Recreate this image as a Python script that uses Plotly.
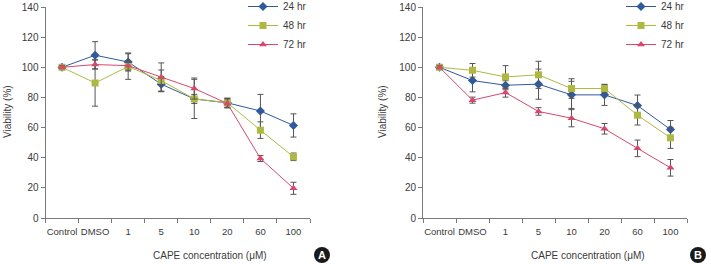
import plotly.graph_objects as go

categories = ["Control", "DMSO", "1", "5", "10", "20", "60", "100"]
series_names = ["24 hr", "48 hr", "72 hr"]

# Panel A
a_24 = [100, 108, 103.5, 88.8, 79, 76.4, 71, 61.4]
a_24_err = [1, 9, 6, 5, 3, 3, 11, 7.7]
a_48 = [100, 89.6, 100.5, 91.2, 79, 76.5, 58.3, 40.6]
a_48_err = [1, 15.4, 8.5, 7, 13, 3, 5.5, 2.5]
a_72 = [100, 101.8, 101.1, 93.4, 85.9, 76, 39.5, 19.7]
a_72_err = [1, 3, 3, 9.5, 7, 3, 2, 4]

# Panel B
b_24 = [100, 91.2, 88.1, 88.8, 81.7, 81.7, 74.6, 58.7]
b_24_err = [1, 7.5, 3, 10, 9, 7, 7, 6]
b_48 = [100, 98, 93.6, 95, 85.9, 85.9, 68.2, 53.2]
b_48_err = [1, 4.5, 7.5, 9, 6.5, 2.5, 6.5, 7]
b_72 = [100, 78.2, 83.2, 70.7, 66.2, 59.2, 46.2, 33.3]
b_72_err = [1, 2, 3, 2.5, 5.7, 3.5, 5.5, 5.5]

colors = ["#2f5a9b", "#afb941", "#d6486c"]
symbols = ["diamond", "square", "triangle-up"]
sizes = [7, 7, 7]

FONT = "Liberation Sans, Arial, sans-serif"
FS = 10
TXT = "#3a3a3a"
AX = "#7a7a7a"

fig = go.Figure()

panels = [
    ("x", "y", "legend", [a_24, a_48, a_72], [a_24_err, a_48_err, a_72_err]),
    ("x2", "y2", "legend2", [b_24, b_48, b_72], [b_24_err, b_48_err, b_72_err]),
]
for xa, ya, lg, vals, errs in panels:
    for i in range(3):
        fig.add_trace(go.Scatter(
            x=categories, y=vals[i], xaxis=xa, yaxis=ya, legend=lg,
            name=series_names[i], mode="lines+markers",
            line=dict(color=colors[i], width=1),
            marker=dict(color=colors[i], symbol=symbols[i], size=sizes[i]),
            error_y=dict(type="data", array=errs[i], visible=True,
                         color="#555555", thickness=1, width=3),
        ))

ydom = [(264 - 218) / 264, (264 - 7) / 264]
axis_common = dict(showline=True, linecolor=AX, linewidth=1, ticks="outside",
                   tickcolor=AX, ticklen=4, showgrid=False, zeroline=False,
                   automargin=False)
yticks = [0, 20, 40, 60, 80, 100, 120, 140]
xfont = dict(family=FONT, size=9.5, color=TXT)
yfont = dict(family=FONT, size=FS, color=TXT)
LEG_Y = 1 + 8 / 264
fig.update_layout(
    width=711, height=264, margin=dict(l=0, r=0, t=0, b=0, autoexpand=False),
    paper_bgcolor="white", plot_bgcolor="white", showlegend=True,
    font=dict(family=FONT, size=FS, color=TXT),
    xaxis=dict(domain=[45.5 / 711, 310 / 711], anchor="y", type="category",
               range=[-0.5, 7.5], tickson="boundaries", tickangle=0, tickfont=xfont,
               ticklabelstandoff=5, **axis_common),
    yaxis=dict(domain=ydom, anchor="x", range=[0, 140], tickvals=yticks, tickfont=yfont,
               **axis_common),
    xaxis2=dict(domain=[423 / 711, 687 / 711], anchor="y2", type="category",
                range=[-0.5, 7.5], tickson="boundaries", tickangle=0, tickfont=xfont,
                ticklabelstandoff=5, **axis_common),
    yaxis2=dict(domain=ydom, anchor="x2", range=[0, 140], tickvals=yticks, tickfont=yfont,
                **axis_common),
    legend=dict(x=243 / 711, y=LEG_Y, xanchor="left", yanchor="top",
                bgcolor="rgba(0,0,0,0)", font=dict(family=FONT, size=FS, color=TXT),
                tracegroupgap=0, itemwidth=30),
    legend2=dict(x=621 / 711, y=LEG_Y, xanchor="left", yanchor="top",
                 bgcolor="rgba(0,0,0,0)", font=dict(family=FONT, size=FS, color=TXT),
                 tracegroupgap=0, itemwidth=30),
)

# axis titles and panel letters
LY = (264 - 255) / 264
for cx, lx, letter, ytx in [(210, 322, "A", 8), (588, 698, "B", 383)]:
    fig.add_annotation(text="CAPE concentration (μM)", x=cx / 711, y=LY,
                       xref="paper", yref="paper", showarrow=False,
                       xanchor="center", yanchor="middle",
                       font=dict(family=FONT, size=FS, color=TXT))
    fig.add_annotation(text="Viability (%)", x=ytx / 711, y=(264 - 112) / 264, textangle=-90,
                       xref="paper", yref="paper", showarrow=False,
                       xanchor="center", yanchor="middle",
                       font=dict(family=FONT, size=FS, color=TXT))
    fig.add_shape(type="circle", xref="paper", yref="paper", xsizemode="pixel", ysizemode="pixel",
                  xanchor=lx / 711, yanchor=LY, x0=-8, x1=8, y0=-8, y1=8, layer="below",
                  fillcolor="#1a1a1a", line=dict(color="#1a1a1a", width=0))
    fig.add_annotation(text="<b>%s</b>" % letter, x=lx / 711, y=LY,
                       xref="paper", yref="paper", showarrow=False,
                       xanchor="center", yanchor="middle",
                       font=dict(family=FONT, size=11, color="white"))

fig.write_html("out.html")
